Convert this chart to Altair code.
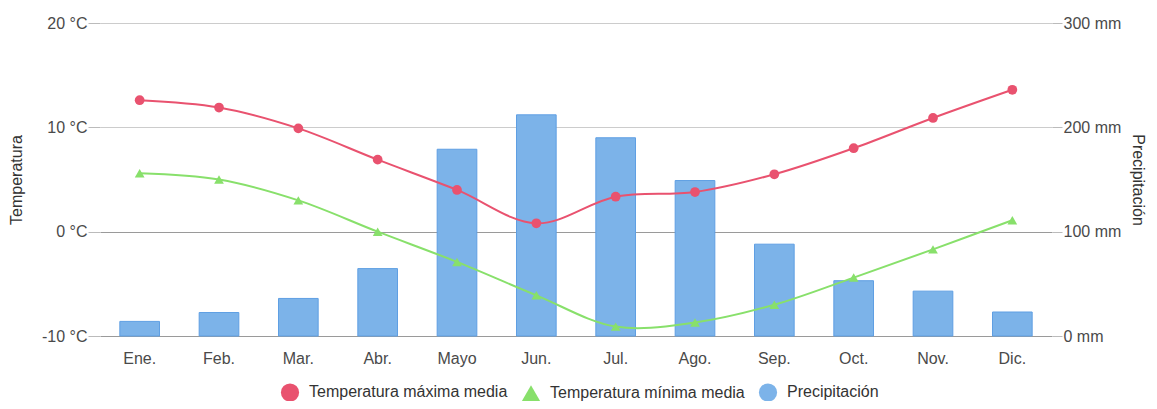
import altair as alt
import pandas as pd

meses = ["Ene.", "Feb.", "Mar.", "Abr.", "Mayo", "Jun.", "Jul.", "Ago.", "Sep.", "Oct.", "Nov.", "Dic."]
t_max = [12.6, 11.9, 9.9, 6.9, 4.0, 0.8, 3.35, 3.8, 5.5, 8.0, 10.9, 13.6]
t_min = [5.6, 5.0, 3.0, 0.0, -2.9, -6.1, -9.1, -8.7, -7.0, -4.4, -1.7, 1.1]
precip = [14, 22.5, 36, 64.6, 179, 212, 190, 149, 88, 53, 43, 23]

S_MAX = "Temperatura máxima media"
S_MIN = "Temperatura mínima media"
S_PRE = "Precipitación"
series = [S_MAX, S_MIN, S_PRE]
colors = ["#e9526f", "#88e06b", "#7cb3e9"]
shapes = ["circle", "triangle-up", "circle"]

temp_df = pd.DataFrame(
    [{"mes": m, "serie": S_MAX, "valor": v} for m, v in zip(meses, t_max)]
    + [{"mes": m, "serie": S_MIN, "valor": v} for m, v in zip(meses, t_min)]
)
pre_df = pd.DataFrame({"mes": meses, "serie": S_PRE, "valor": precip})

FONT = "Liberation Sans"
LBL = 16
TTL = 16

x_enc = alt.X("mes:N", sort=meses, title=None,
              scale=alt.Scale(paddingInner=0.5, paddingOuter=0.25),
              axis=alt.Axis(labelAngle=0, labelFontSize=LBL, labelColor="#4a4a4a",
                            labelPadding=14, ticks=False, domain=False, grid=False,
                            labelFont=FONT))

bars = alt.Chart(pre_df).mark_bar(color=colors[2], stroke="#5f9fe3", strokeWidth=1, opacity=1).encode(
    x=x_enc,
    y=alt.Y("valor:Q", title="Precipitación",
            scale=alt.Scale(domain=[0, 300]),
            axis=alt.Axis(orient="right", values=[0, 100, 200, 300],
                          labelExpr="datum.value + ' mm'", grid=True,
                          gridColor=alt.expr("datum.value <= 100 ? '#9a9a9a' : '#cccccc'"),
                          domain=False, tickSize=10, tickColor="#bbb",
                          labelPadding=1, labelFontSize=LBL, labelColor="#4a4a4a",
                          labelFont=FONT, titleFont=FONT, titleFontSize=TTL,
                          titleFontWeight="normal", titleColor="#333",
                          titlePadding=9)),
)

temp_y = alt.Y("valor:Q", title="Temperatura",
               scale=alt.Scale(domain=[-10, 20]),
               axis=alt.Axis(orient="left", values=[-10, 0, 10, 20],
                             labelExpr="datum.value + ' °C'", grid=False,
                             domain=False, tickSize=12, tickColor="#bbb",
                             labelPadding=1, labelFontSize=LBL, labelColor="#4a4a4a",
                             labelFont=FONT, titleFont=FONT, titleFontSize=TTL,
                             titleFontWeight="normal", titleColor="#333",
                             titlePadding=17))

leg = alt.Legend(orient="none", legendX=180, legendY=359, direction="horizontal",
                 title=None, symbolSize=330, labelLimit=400,
                 labelFontSize=16, labelColor="#333", padding=0,
                 labelFont=FONT, columnPadding=10, labelOffset=9,
                 symbolOpacity=1)

line_max = alt.Chart(temp_df).transform_filter(alt.datum.serie == S_MAX).mark_line(
    interpolate="catmull-rom", strokeWidth=2, color=colors[0]).encode(x=x_enc, y=temp_y)
line_min = alt.Chart(temp_df).transform_filter(alt.datum.serie == S_MIN).mark_line(
    interpolate="catmull-rom", strokeWidth=2, color=colors[1]).encode(x=x_enc, y=temp_y)

points = alt.Chart(temp_df).mark_point(filled=True, opacity=1, size=95).encode(
    x=x_enc,
    y=temp_y,
    color=alt.Color("serie:N", scale=alt.Scale(domain=series, range=colors), legend=leg),
    shape=alt.Shape("serie:N", scale=alt.Scale(domain=series, range=shapes), legend=leg),
)

temps = alt.layer(line_max, line_min, points)

chart = alt.layer(bars, temps).resolve_scale(y="independent").properties(
    width=952, height=313,
    autosize=alt.AutoSizeParams(type="none"),
    padding={"left": 92, "top": 15, "right": 97, "bottom": 65},
).configure(font=FONT).configure_view(stroke=None)

chart.save("out.html", embed_options={"renderer": "svg", "actions": False})
